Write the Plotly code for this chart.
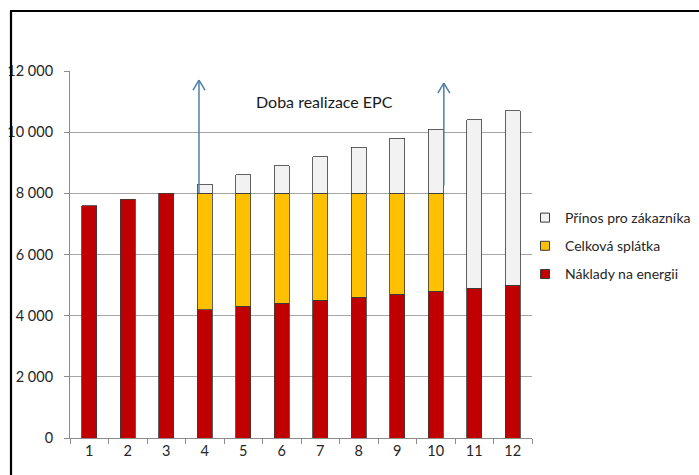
import plotly.graph_objects as go

categories = ["1", "2", "3", "4", "5", "6", "7", "8", "9", "10", "11", "12"]
naklady = [7600, 7800, 8000, 4200, 4300, 4400, 4500, 4600, 4700, 4800, 4900, 5000]
splatka = [0, 0, 0, 3800, 3700, 3600, 3500, 3400, 3300, 3200, 0, 0]
prinos = [0, 0, 0, 300, 600, 900, 1200, 1500, 1800, 2100, 5500, 5700]

series_names = ["Náklady na energii", "Celková splátka", "Přínos pro zákazníka"]
series_colors = ["#C00000", "#FFC000", "#F2F2F2"]

# arrows marking EPC period (category index, start value, end value)
arrow_x = [2.85, 9.21]
arrow_y0 = [8000, 8250]
arrow_y1 = [11700, 11600]
label_text = "Doba realizace EPC"
label_x = 6.12
label_y = 11000

outline = "#3A3A3A"
fig = go.Figure()
for name, vals, col in zip(series_names, [naklady, splatka, prinos], series_colors):
    fig.add_trace(go.Bar(
        x=categories, y=[v if v else None for v in vals], name=name,
        showlegend=False,
        marker=dict(color=col, line=dict(color=outline, width=0.8)),
    ))
# legend entries (small square swatches), top-to-bottom order
for i, (name, col) in enumerate(zip(series_names[::-1], series_colors[::-1])):
    fig.add_trace(go.Scatter(
        x=[None], y=[None], mode="markers", name=name, legendgroup="g%d" % i,
        marker=dict(symbol="square", size=9, color=col, line=dict(color=outline, width=1)),
    ))

W, H = 699, 475
l, r, t, b = 70, 167, 71, 37
pw, ph = W - l - r, H - t - b

def px_x(px):
    return (px - l) / pw

def px_y(py):
    return (H - b - py) / ph

shapes = []
# border: top and left
shapes.append(dict(type="line", xref="paper", yref="paper",
                   x0=px_x(10), x1=px_x(699), y0=px_y(11), y1=px_y(11),
                   line=dict(color="black", width=2.2)))
shapes.append(dict(type="line", xref="paper", yref="paper",
                   x0=px_x(11), x1=px_x(11), y0=px_y(11), y1=px_y(480),
                   line=dict(color="black", width=2.2)))

arrow_col = "#4F7FA6"
dx = 6 / (pw / 12)
dy = 10 * 12000 / ph
for ax, y0, y1 in zip(arrow_x, arrow_y0, arrow_y1):
    shapes.append(dict(type="line", xref="x", yref="y", x0=ax, x1=ax, y0=y0, y1=y1,
                       line=dict(color=arrow_col, width=1.5)))
    shapes.append(dict(type="line", xref="x", yref="y", x0=ax - dx, x1=ax, y0=y1 - dy, y1=y1,
                       line=dict(color=arrow_col, width=1.5)))
    shapes.append(dict(type="line", xref="x", yref="y", x0=ax + dx, x1=ax, y0=y1 - dy, y1=y1,
                       line=dict(color=arrow_col, width=1.5)))

fig.update_layout(
    width=W, height=H,
    margin=dict(l=l, r=r, t=t, b=b, autoexpand=False),
    barmode="stack", bargap=0.61,
    plot_bgcolor="white", paper_bgcolor="white",
    separators=", ",
    font=dict(family="Lato, Open Sans, sans-serif", size=14, color="#262626"),
    xaxis=dict(type="category", tickson="boundaries", ticks="outside", ticklen=5,
               tickcolor="#8C8C8C", showline=True, linecolor="#8C8C8C", linewidth=1,
               showgrid=False, tickfont=dict(size=14.5, color="#262626")),
    yaxis=dict(range=[0, 12000], dtick=2000, tickformat=",d", showgrid=True,
               gridcolor="#A6A6A6", gridwidth=1, showline=True, linecolor="#8C8C8C",
               ticks="outside", ticklen=5, tickcolor="#8C8C8C", zeroline=False,
               ticklabelstandoff=8,
               tickfont=dict(size=14.5, color="#262626")),
    legend=dict(x=px_x(525), y=px_y(202), xanchor="left", yanchor="top",
                traceorder="grouped", tracegroupgap=7, itemwidth=30,
                font=dict(size=14, color="#262626"), bgcolor="rgba(0,0,0,0)"),
    shapes=shapes,
    annotations=[dict(x=label_x, y=label_y, xref="x", yref="y", text=label_text,
                      showarrow=False, font=dict(size=16, color="#1A1A1A"))],
)

fig.write_html("out.html", config={"displayModeBar": False},
               post_script="document.body.style.margin='0px';document.body.style.overflow='hidden';")
